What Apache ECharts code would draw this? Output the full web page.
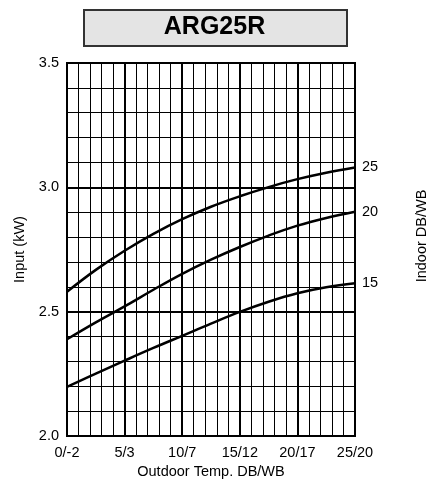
<!DOCTYPE html>
<html>
<head>
<meta charset="utf-8">
<script src="https://cdn.jsdelivr.net/npm/echarts@6/dist/echarts.min.js"></script>
<style>html,body{margin:0;padding:0;background:#fff;}#c{width:431px;height:479px;}</style>
</head>
<body>
<div id="c"></div>
<script>
var titleText = 'ARG25R';
var xValues = [0, 2.5, 5, 7.5, 10, 12.5, 15, 17.5, 20, 22.5, 25];
var xTickValues = [0, 5, 10, 15, 20, 25];
var xTickLabels = ['0/-2', '5/3', '10/7', '15/12', '20/17', '25/20'];
var seriesNames = ['25', '20', '15'];
var curve25 = [2.58, 2.668, 2.745, 2.813, 2.872, 2.922, 2.964, 3.001, 3.033, 3.059, 3.08];
var curve20 = [2.389, 2.457, 2.521, 2.588, 2.652, 2.709, 2.760, 2.806, 2.846, 2.877, 2.902];
var curve15 = [2.198, 2.251, 2.303, 2.354, 2.403, 2.452, 2.499, 2.540, 2.574, 2.598, 2.614];
var yTickLabels = ['2.0', '2.5', '3.0', '3.5'];

var FONT = '"Liberation Sans", Arial, sans-serif';
var FS = 14.5;
function pairs(vals) { return xValues.map(function (x, i) { return [x, vals[i]]; }); }

var chart = echarts.init(document.getElementById('c'), null, {renderer: 'canvas'});
var curves = [curve25, curve20, curve15];
var series = curves.map(function (vals, i) {
  return {
    name: seriesNames[i], type: 'line', smooth: 0.4, symbol: 'none',
    data: pairs(vals),
    lineStyle: {color: '#000', width: 2.5},
    endLabel: {show: true, formatter: seriesNames[i], color: '#000', fontSize: FS, fontFamily: FONT, distance: 7},
    z: 5
  };
});

chart.setOption({
  animation: false,
  backgroundColor: '#fff',
  grid: {left: 67, right: 76, top: 63, bottom: 43, show: true, borderColor: '#000', borderWidth: 2,
         containLabel: false, outerBoundsMode: 'none'},
  xAxis: {
    type: 'value', min: 0, max: 25, interval: 5,
    name: 'Outdoor Temp. DB/WB', nameLocation: 'middle', nameGap: 26,
    nameTextStyle: {fontSize: FS, fontFamily: FONT, color: '#000'},
    axisLine: {show: true, lineStyle: {color: '#000', width: 2}},
    axisTick: {show: false},
    axisLabel: {color: '#000', fontSize: FS, fontFamily: FONT, margin: 9,
      formatter: function (v) { var i = xTickValues.indexOf(v); return i >= 0 ? xTickLabels[i] : ''; }},
    splitLine: {show: true, lineStyle: {color: '#000', width: 2}},
    minorTick: {show: false, splitNumber: 5},
    minorSplitLine: {show: true, lineStyle: {color: '#000', width: 1}}
  },
  yAxis: {
    type: 'value', min: 2, max: 3.5, interval: 0.5,
    name: 'Input (kW)', nameLocation: 'middle', nameGap: 36,
    nameTextStyle: {fontSize: FS, fontFamily: FONT, color: '#000'},
    axisLine: {show: true, lineStyle: {color: '#000', width: 2}},
    axisTick: {show: false},
    axisLabel: {color: '#000', fontSize: FS, fontFamily: FONT, margin: 8,
      formatter: function (v) { return yTickLabels[Math.round((v - 2) / 0.5)] || ''; }},
    splitLine: {show: true, lineStyle: {color: '#000', width: 2}},
    minorTick: {show: false, splitNumber: 5},
    minorSplitLine: {show: true, lineStyle: {color: '#000', width: 1}}
  },
  graphic: [
    {type: 'rect', left: 83, top: 9, shape: {width: 263, height: 36},
     style: {fill: '#e4e4e4', stroke: '#333', lineWidth: 2}, z: 10},
    {type: 'text', x: 214.5, y: 27, style: {text: titleText, fill: '#000', font: 'bold 25px ' + FONT, align: 'center', verticalAlign: 'middle'}, z: 11},
    {type: 'text', x: 422, y: 236, rotation: Math.PI / 2,
     style: {text: 'Indoor DB/WB', fill: '#000', font: FS + 'px ' + FONT, align: 'center', verticalAlign: 'middle'}, z: 11}
  ],
  series: series
});
</script>
</body>
</html>
